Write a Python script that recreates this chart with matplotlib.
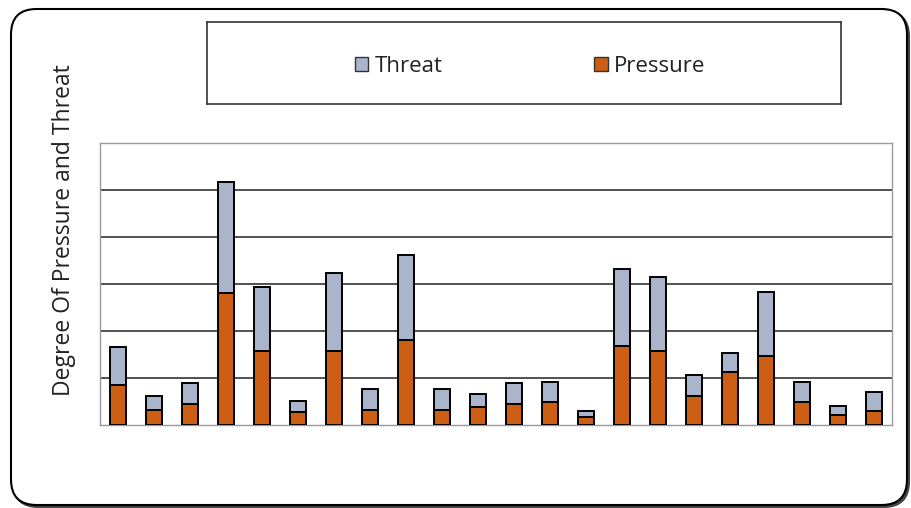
import numpy as np
import matplotlib.pyplot as plt
from matplotlib.patches import FancyBboxPatch, Patch

# values (one gridline = 1 unit)
pressure = [0.85, 0.32, 0.45, 2.80, 1.57, 0.27, 1.57, 0.32, 1.81, 0.32, 0.39,
            0.45, 0.48, 0.18, 1.68, 1.57, 0.62, 1.12, 1.47, 0.48, 0.21, 0.30]
total = [1.67, 0.62, 0.89, 5.18, 2.93, 0.51, 3.24, 0.76, 3.62, 0.76, 0.65,
         0.89, 0.92, 0.30, 3.31, 3.14, 1.06, 1.54, 2.82, 0.92, 0.40, 0.71]
threat = [t - p for t, p in zip(total, pressure)]
labels = ['Threat', 'Pressure']

c_press = '#CC5F14'
c_threat = '#AAB5CB'

plt.rcParams['font.family'] = ['Open Sans', 'DejaVu Sans']

fig = plt.figure(figsize=(9.11, 5.08), dpi=100)
W, H = 911, 508

# outer rounded frame, shadow behind it at bottom right
shadow = FancyBboxPatch((13 / W, 1 / H), 896 / W, 496 / H,
                        boxstyle="round,pad=0,rounding_size=0.028",
                        transform=fig.transFigure, facecolor='#444444',
                        edgecolor='#444444', linewidth=1.5, mutation_aspect=W / H,
                        zorder=-2)
fig.patches.append(shadow)
frame = FancyBboxPatch((11 / W, 3 / H), 896 / W, 496 / H,
                       boxstyle="round,pad=0,rounding_size=0.028",
                       transform=fig.transFigure, facecolor='white',
                       edgecolor='black', linewidth=1.5, mutation_aspect=W / H,
                       zorder=-1)
fig.patches.append(frame)

ax = fig.add_axes([100 / W, 83 / H, 792 / W, 282 / H])
x = np.arange(len(pressure))
ax.bar(x, pressure, width=0.42, color=c_press, edgecolor='black', linewidth=1.4, zorder=3)
ax.bar(x, threat, bottom=pressure, width=0.42, color=c_threat, edgecolor='black',
       linewidth=1.4, zorder=3)
ax.set_xlim(-0.5, len(pressure) - 0.5)
ax.set_ylim(0, 6)
for g in range(1, 6):
    ax.axhline(g, color='#222222', linewidth=1.1, zorder=1)
ax.set_xticks([])
ax.set_yticks([])
for s in ax.spines.values():
    s.set_color('#9a9a9a')
    s.set_linewidth(1)

fig.text(64 / W, 1 - 230 / H, 'Degree Of Pressure and Threat', rotation=90,
         ha='center', va='center', fontsize=16.5, color='#222222')

# legend box
lax = fig.add_axes([207 / W, 1 - 104 / H, 634 / W, 82 / H])
lax.set_xticks([])
lax.set_yticks([])
for s in lax.spines.values():
    s.set_color('#333333')
    s.set_linewidth(1.2)
handles = [Patch(facecolor=c_threat, edgecolor='#333333'),
           Patch(facecolor=c_press, edgecolor='#333333')]
leg = lax.legend(handles, labels, loc='center', ncol=2, frameon=False, fontsize=16,
                 columnspacing=6.8, handlelength=0.6, handleheight=0.6,
                 handletextpad=0.3, labelcolor='#222222',
                 bbox_to_anchor=(0.51, 0.46))

fig.savefig('out.png', dpi=100)
